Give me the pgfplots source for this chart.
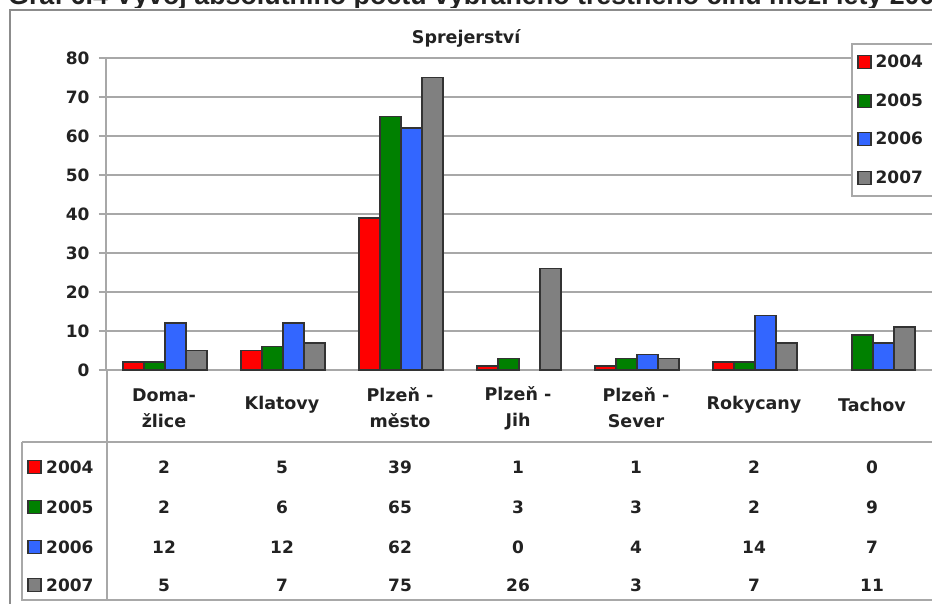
\documentclass[border=0pt]{standalone}
\usepackage{pgfplots}
\pgfplotsset{compat=1.18}
\usepackage{fontspec}
\setmainfont{DejaVu Sans}
\newfontfamily\titlefont{Liberation Sans}
\definecolor{cR}{HTML}{FF0000}
\definecolor{cG}{HTML}{008000}
\definecolor{cB}{HTML}{3366FF}
\definecolor{cY}{HTML}{808080}
\definecolor{edge}{HTML}{333333}
\definecolor{gridc}{HTML}{A8A8A8}
\definecolor{framec}{HTML}{8C8C8C}
\definecolor{txt}{HTML}{222222}
\begin{document}
\begin{tikzpicture}
\useasboundingbox (0pt,0pt) rectangle (932pt,-604pt);
\clip (0pt,0pt) rectangle (932pt,-604pt);
\fill[white] (0pt,0pt) rectangle (932pt,-604pt);
% cut-off page title
\node[anchor=base west, inner sep=0pt, text=txt, font=\titlefont\bfseries\fontsize{26.8}{30}\selectfont] at (8pt,-4.5pt)
  {Graf 6.4 Vývoj absolutního počtu vybraného trestného činu mezi léty 2004 -- 2007};
\fill[white] (0pt,-7.6pt) rectangle (932pt,-604pt);
% outer frame
\draw[framec, line width=2pt] (10pt,-640pt) -- (10pt,-10pt) -- (960pt,-10pt);
\begin{axis}[
  at={(106pt,-370pt)}, anchor=south west,
  scale only axis, width=826pt, height=312pt,
  xmin=-0.5, xmax=6.5, ymin=0, ymax=80,
  ybar=0pt, bar width=21pt,
  axis lines=left,
  axis line style={-, gridc, line width=2pt},
  xtick=\empty,
  ytick={0,10,...,80},
  ymajorgrids,
  major grid style={gridc, line width=2pt},
  tick align=outside,
  major tick length=7pt,
  ytick style={gridc, line width=2pt},
  yticklabel style={font=\bfseries\fontsize{17}{18}\selectfont, text=txt, anchor=east, xshift=-6pt},
  /pgf/number format/assume math mode=true,
  clip=false,
  every axis plot/.append style={draw=edge, line width=1.6pt},
  title={Sprejerství},
  title style={font=\bfseries\fontsize{17.5}{18}\selectfont, text=txt, at={(0.436,1)}, anchor=base, yshift=8pt},
  legend style={at={(axis description cs:0.9025,1.048)}, anchor=north west,
    draw=gridc, line width=2pt, fill=white,
    font=\bfseries\fontsize{17}{18}\selectfont, text=txt,
    inner xsep=5pt, inner ysep=9pt, row sep=20.5pt},
  legend cell align=left,
  legend image code/.code={\draw[#1, draw=edge, line width=1.2pt] (0pt,-6.5pt) rectangle (13pt,6.5pt);},
]
\addplot[fill=cR] coordinates {(0,2) (1,5) (2,39) (3,1) (4,1) (5,2)};
\addplot[fill=cG] coordinates {(0,2) (1,6) (2,65) (3,3) (4,3) (5,2) (6,9)};
\addplot[fill=cB] coordinates {(0,12) (1,12) (2,62) (4,4) (5,14) (6,7)};
\addplot[fill=cY] coordinates {(0,5) (1,7) (2,75) (3,26) (4,3) (5,7) (6,11)};
\legend{\hspace*{2pt}2004\hspace*{20pt}\null,\hspace*{2pt}2005\hspace*{20pt}\null,\hspace*{2pt}2006\hspace*{20pt}\null,\hspace*{2pt}2007\hspace*{20pt}\null}
\end{axis}
% table lines
\draw[gridc, line width=2pt] (107pt,-370pt) -- (107pt,-601pt);
\draw[gridc, line width=2.5pt] (22pt,-442pt) -- (940pt,-442pt);
\draw[gridc, line width=2.5pt] (22pt,-600pt) -- (940pt,-600pt);
\draw[gridc, line width=2pt] (22pt,-442pt) -- (22pt,-601pt);
% category labels
\begin{scope}[every node/.style={text=txt, font=\bfseries\fontsize{17.5}{26}\selectfont, align=center, inner sep=0pt}]
\node at (164pt,-408pt) {Doma-\\žlice};
\node at (282pt,-405pt) {Klatovy};
\node at (400pt,-408pt) {Plzeň -\\město};
\node at (518pt,-408pt) {Plzeň -\\Jih};
\node at (636pt,-408pt) {Plzeň -\\Sever};
\node at (754pt,-405pt) {Rokycany};
\node at (872pt,-405pt) {Tachov};
\end{scope}
% table rows
\begin{scope}[every node/.style={text=txt, font=\bfseries\fontsize{17}{18}\selectfont, inner sep=0pt}]
\foreach \y/\c/\yr/\vals in {467/cR/2004/{2,5,39,1,1,2,0}, 507/cG/2005/{2,6,65,3,3,2,9}, 547/cB/2006/{12,12,62,0,4,14,7}, 585/cY/2007/{5,7,75,26,3,7,11}} {
  \draw[fill=\c, draw=edge, line width=1.2pt] (28pt,-\y pt+6.5pt) rectangle (41pt,-\y pt-6.5pt);
  \node[anchor=west] at (46pt,-\y pt) {\yr};
  \foreach \v [count=\i from 0] in \vals {
    \node at (164pt+118pt*\i,-\y pt) {\v};
  }
}
\end{scope}
\end{tikzpicture}
\end{document}
